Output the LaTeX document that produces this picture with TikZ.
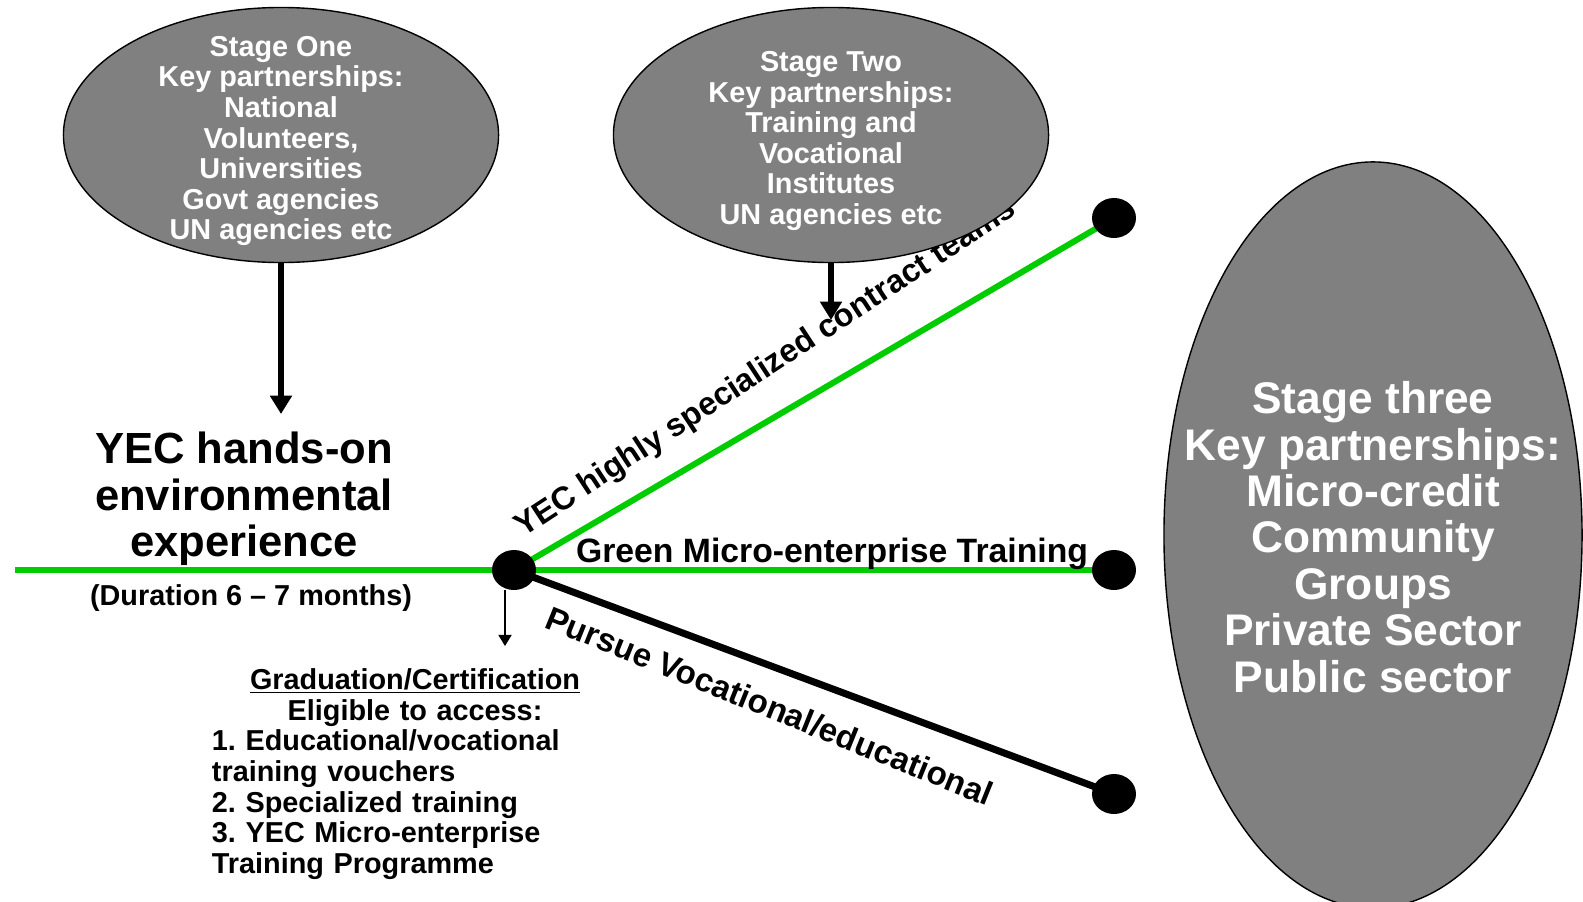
\documentclass[tikz,border=0pt]{standalone}
\usepackage{fontspec}
\setmainfont{Liberation Sans}
\usetikzlibrary{shapes.geometric, arrows.meta, positioning, backgrounds}
\definecolor{bubblegray}{RGB}{128,128,128}
\definecolor{pathgreen}{RGB}{0,204,0}
\tikzstyle{stage} = [ellipse, draw=black, line width=1pt, fill=bubblegray, inner sep=0pt]
\tikzstyle{stagesmall} = [stage, minimum width=10.875cm, minimum height=6.375cm]
\tikzstyle{stagebig} = [stage, minimum width=10.45cm, minimum height=18.65cm]
\tikzstyle{stagetext} = [text=white, align=center, inner sep=0pt, font=\bfseries\fontsize{20.5}{21.8}\selectfont]
\tikzstyle{enddot} = [ellipse, fill=black, minimum width=1.1cm, minimum height=1cm, inner sep=0pt]
\tikzstyle{greenpath} = [draw=pathgreen, line width=4.3pt]
\tikzstyle{blackpath} = [draw=black, line width=5pt]
\tikzstyle{bigarrow} = [line width=4pt, -{Triangle[width=15pt,length=13pt]}]
\tikzstyle{thinarrow} = [line width=1pt, -{Triangle[width=9.5pt,length=8pt]}]
\tikzstyle{pathlabel} = [font=\bfseries\fontsize{23.5}{25}\selectfont, inner sep=0pt]

\begin{document}
\begin{tikzpicture}[x=0.025cm, y=-0.025cm]
\useasboundingbox (0,0) rectangle (1583,901);

% junction and branch ends
\coordinate (linestart) at (15,570);
\node (junction) [enddot] at (514,570) {};
\node (topend) [enddot] at (1114,218) {};
\node (midend) [enddot] at (1114,570) {};
\node (lowend) [enddot] at (1114,794) {};

\begin{scope}[on background layer]
\draw [greenpath] (linestart) -- (junction.center);
\draw [greenpath] (junction.center) -- (midend.center);
\draw [greenpath] (junction.center) -- (topend.center);
\draw [blackpath] (junction.center) -- (lowend.center);
\end{scope}

% labels on the branches
\node (teamlabel) [pathlabel, font=\bfseries\fontsize{23}{25}\selectfont, rotate=33.2, anchor=base west] at (523,538) {YEC highly specialized contract teams};
\node (greenlabel) [pathlabel, font=\bfseries\fontsize{24}{25}\selectfont, anchor=base] at (832,562) {Green Micro-enterprise Training};
\node (pursuelabel) [pathlabel, rotate=-22, anchor=base west] at (543,627) {Pursue Vocational/educational};

% stage bubbles
\node (stageone) [stagesmall] at (281,135) {};
\node (stageonetext) [stagetext] at (281,141) {Stage One\\Key partnerships:\\National\\Volunteers,\\Universities\\Govt agencies\\UN agencies etc};
\node (stagetwo) [stagesmall] at (831,135) {};
\node (stagetwotext) [stagetext] at (831,141) {Stage Two\\Key partnerships:\\Training and\\Vocational\\Institutes\\UN agencies etc};
\node (stagethree) [stagebig] at (1373,535) {};
\node (stagethreetext) [stagetext, font=\bfseries\fontsize{31.5}{33}\selectfont] at (1373,537) {Stage three\\Key partnerships:\\Micro-credit\\Community\\Groups\\Private Sector\\Public sector};

% experience text
\node (handson) [font=\bfseries\fontsize{31}{33}\selectfont, align=center] at (244,499) {YEC hands-on\\environmental\\experience};
\node (duration) [font=\bfseries\fontsize{20.5}{22}\selectfont] at (251,598) {(Duration 6 -- 7 months)};
\node (gradinfo) [font=\bfseries\fontsize{20.5}{21.8}\selectfont\frenchspacing, text width=10.15cm, align=left, inner sep=0pt] at (415,774)
  {{\centering\underline{Graduation/Certification}\\Eligible to access:\par}
   1. Educational/vocational\\training vouchers\\2. Specialized training\\3. YEC Micro-enterprise\\Training Programme};

% arrows
\coordinate (onetip) at (281,414);
\coordinate (twotip) at (831,320);
\coordinate (gradtip) at (505,646);
\draw [bigarrow] (stageone.south) -- (onetip);
\draw [bigarrow] (stagetwo.south) -- (twotip);
\draw [thinarrow] (junction.south -| gradtip) -- (gradtip);

\end{tikzpicture}
\end{document}
